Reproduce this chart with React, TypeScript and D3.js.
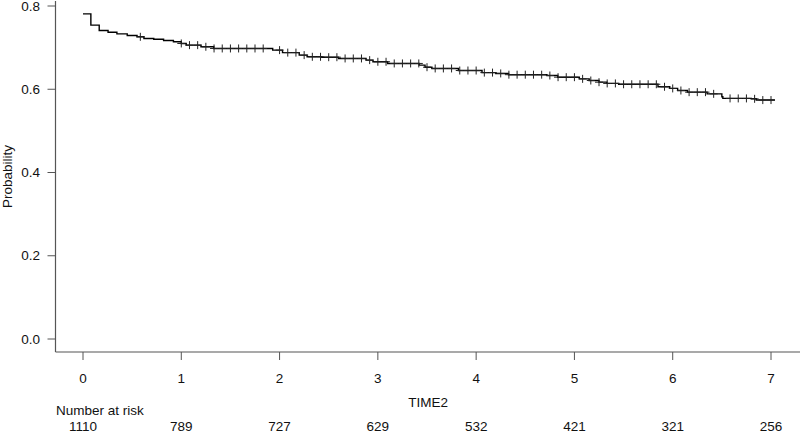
import React from "react";
import * as d3 from "d3";

// Kaplan-Meier step function: event times (years) and survival after each step
const stepTimes = [0, 0.08, 0.165, 0.255, 0.345, 0.45, 0.55, 0.62, 0.72, 0.82, 0.92, 1.0, 1.05, 1.2, 1.33, 1.93, 2.03, 2.2, 2.28, 2.43, 2.6, 2.88, 2.95, 3.1, 3.42, 3.48, 3.55, 3.82, 4.06, 4.2, 4.33, 4.72, 4.83, 5.05, 5.15, 5.25, 5.33, 5.45, 5.85, 5.97, 6.05, 6.15, 6.35, 6.5, 6.51, 6.8, 6.85];
const stepSurv = [0.781, 0.754, 0.741, 0.737, 0.733, 0.729, 0.726, 0.722, 0.72, 0.717, 0.714, 0.71, 0.706, 0.702, 0.698, 0.694, 0.688, 0.682, 0.678, 0.677, 0.674, 0.67, 0.666, 0.662, 0.658, 0.653, 0.65, 0.645, 0.64, 0.638, 0.635, 0.633, 0.629, 0.625, 0.621, 0.617, 0.614, 0.612, 0.606, 0.602, 0.597, 0.593, 0.589, 0.582, 0.578, 0.577, 0.574];
const endTime = 7.04;

// censoring times, in months
const censorMonths = [7, 12, 13, 14, 15, 16, 17, 18, 19, 20, 21, 22, 24, 25, 26, 27, 28, 29, 30, 31, 32, 33, 34, 35, 36, 37, 38, 39, 40, 41, 42, 43, 44, 45, 46, 47, 48, 49, 50, 51, 52, 53, 54, 55, 56, 57, 58, 59, 60, 61, 62, 63, 64, 65, 66, 67, 68, 69, 70, 71, 72, 73, 74, 75, 76, 77, 79, 80, 81, 82, 83, 84];

const xTicks = [0, 1, 2, 3, 4, 5, 6, 7];
const yTicks = [0.0, 0.2, 0.4, 0.6, 0.8];
const riskTimes = [0, 1, 2, 3, 4, 5, 6, 7];
const atRisk = [1110, 789, 727, 629, 532, 421, 321, 256];

const FONT = "'Liberation Sans', Arial, Helvetica, sans-serif";
const FS = 13.5;

export default function App() {
  const x = d3.scaleLinear().domain([0, 7]).range([83, 771]);
  const y = d3.scaleLinear().domain([0, 0.8]).range([339, 6]);

  const xMin = x.invert(55.5);
  const xMax = x.invert(803);
  const yMin = y.invert(352);
  const yMax = y.invert(1);

  const pts: [number, number][] = stepTimes.map((t, i) => [t, stepSurv[i]]);
  pts.push([endTime, stepSurv[stepSurv.length - 1]]);
  const line = d3
    .line<[number, number]>()
    .x((d) => x(d[0]))
    .y((d) => y(d[1]))
    .curve(d3.curveStepAfter);

  const survAt = (t: number) => {
    let s = stepSurv[0];
    for (let i = 0; i < stepTimes.length; i++) {
      if (stepTimes[i] <= t) s = stepSurv[i];
    }
    return s;
  };

  const axisColor = "#555";

  return (
    <svg
      width={800}
      height={433}
      style={{ position: "absolute", left: 0, top: 0, background: "#fff" }}
      fontFamily={FONT}
    >
      <rect width={800} height={433} fill="#fff" />
      {/* axes lines (L box) */}
      <line x1={x(xMin)} x2={x(xMin)} y1={y(yMax)} y2={y(yMin)} stroke={axisColor} strokeWidth={1.2} />
      <line x1={x(xMin)} x2={x(xMax)} y1={y(yMin)} y2={y(yMin)} stroke={axisColor} strokeWidth={1.2} />

      {/* y ticks */}
      {yTicks.map((v) => (
        <g key={"y" + v}>
          <line x1={x(xMin) - 8} x2={x(xMin)} y1={y(v)} y2={y(v)} stroke={axisColor} strokeWidth={1} />
          <text x={40} y={y(v)} dy="0.35em" textAnchor="end" fontSize={FS} fill="#111">
            {v.toFixed(1)}
          </text>
        </g>
      ))}
      <text
        transform={`translate(12,${(y(yMax) + y(yMin)) / 2}) rotate(-90)`}
        textAnchor="middle"
        fontSize={FS}
        fill="#111"
      >
        Probability
      </text>

      {/* x ticks */}
      {xTicks.map((v) => (
        <g key={"x" + v}>
          <line x1={x(v)} x2={x(v)} y1={y(yMin)} y2={y(yMin) + 8} stroke={axisColor} strokeWidth={1} />
          <text x={x(v)} y={378} dy="0.35em" textAnchor="middle" fontSize={FS} fill="#111">
            {v}
          </text>
        </g>
      ))}
      <text x={(x(xMin) + x(xMax)) / 2 - 1} y={402} dy="0.35em" textAnchor="middle" fontSize={FS} fill="#111">
        TIME2
      </text>

      {/* number at risk */}
      <text x={56} y={410} dy="0.35em" fontSize={FS} fill="#111">
        Number at risk
      </text>
      {riskTimes.map((t, i) => (
        <text key={"r" + t} x={x(t)} y={426} dy="0.35em" textAnchor="middle" fontSize={FS} fill="#111">
          {atRisk[i]}
        </text>
      ))}

      {/* survival curve */}
      <path d={line(pts) || ""} fill="none" stroke="#000" strokeWidth={1.4} />

      {/* censor marks */}
      {censorMonths.map((m) => {
        const t = m / 12;
        const cx = x(t);
        const cy = y(survAt(t));
        return (
          <g key={"c" + m} stroke="#222" strokeWidth={1}>
            <line x1={cx - 4} x2={cx + 4} y1={cy} y2={cy} />
            <line x1={cx} x2={cx} y1={cy - 4} y2={cy + 4} />
          </g>
        );
      })}
    </svg>
  );
}
